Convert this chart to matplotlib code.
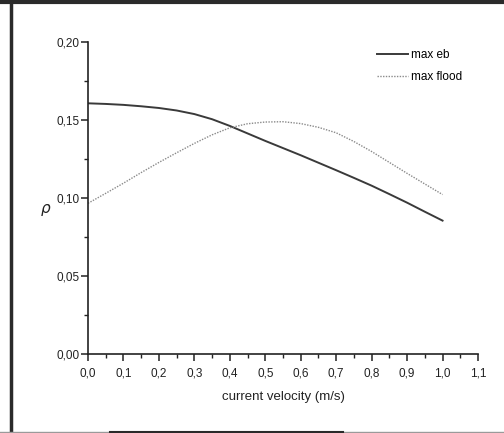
import matplotlib
matplotlib.use("Agg")
import matplotlib.pyplot as plt
from matplotlib.lines import Line2D
from matplotlib.ticker import MultipleLocator, FuncFormatter

plt.rcParams['font.family'] = ['Liberation Sans', 'DejaVu Sans']

# velocidade da corrente (m/s) e valores de rho
velocidade = [0.00, 0.05, 0.10, 0.15, 0.20, 0.25, 0.30, 0.35, 0.40, 0.45, 0.50,
              0.55, 0.60, 0.65, 0.70, 0.75, 0.80, 0.85, 0.90, 0.95, 1.00]
max_eb = [0.1607, 0.1603, 0.1597, 0.1588, 0.1577, 0.1561, 0.1538, 0.1505, 0.1462,
          0.1414, 0.1366, 0.1320, 0.1274, 0.1226, 0.1178, 0.1129, 0.1079, 0.1025,
          0.0970, 0.0912, 0.0855]
max_flood = [0.0966, 0.1030, 0.1095, 0.1163, 0.1228, 0.1290, 0.1350, 0.1405, 0.1450,
             0.1476, 0.1487, 0.1489, 0.1477, 0.1453, 0.1418, 0.1362, 0.1298, 0.1228,
             0.1158, 0.1090, 0.1022]

fig = plt.figure(figsize=(5.04, 4.33), dpi=100)
ax = fig.add_axes([88 / 504, 79 / 433, 390 / 504, 312 / 433])

ax.plot(velocidade, max_eb, color='#3a3a3a', lw=1.4, label='max eb')
ax.plot(velocidade, max_flood, color='#8a8a8a', lw=1.0, linestyle=(0, (1, 1)),
        label='max flood')

ax.set_xlim(0, 1.1)
ax.set_ylim(0, 0.20)
ax.spines['top'].set_visible(False)
ax.spines['right'].set_visible(False)
for s in ('left', 'bottom'):
    ax.spines[s].set_linewidth(1.2)
    ax.spines[s].set_color('#222222')

ax.xaxis.set_major_locator(MultipleLocator(0.1))
ax.xaxis.set_minor_locator(MultipleLocator(0.05))
ax.yaxis.set_major_locator(MultipleLocator(0.05))
ax.yaxis.set_minor_locator(MultipleLocator(0.025))
ax.xaxis.set_major_formatter(FuncFormatter(lambda v, p: f"{v:.1f}".replace('.', ',')))
ax.yaxis.set_major_formatter(FuncFormatter(lambda v, p: f"{v:.2f}".replace('.', ',')))
ax.tick_params(which='major', direction='out', length=5, width=1.1, labelsize=8.5,
               colors='#222222', pad=3)
ax.tick_params(which='minor', direction='out', length=3, width=1.0, colors='#222222')
ax.tick_params(axis='x', which='major', pad=5)
ax.tick_params(axis='y', which='major', pad=1)

ax.set_xlabel('current velocity (m/s)', fontsize=9.5, labelpad=8, color='#222222')
ax.set_ylabel('ρ', fontsize=11, rotation=0, style='italic', color='#222222',
              ha='center', va='center', family=['DejaVu Sans'])
ax.yaxis.set_label_coords(-0.11, 0.465)

ax.legend(frameon=False, loc='upper left', bbox_to_anchor=(0.73, 0.992),
          fontsize=8.5, handlelength=2.6, handletextpad=0.25, labelspacing=0.85,
          borderaxespad=0)

# moldura escura em volta da figura
fig.add_artist(Line2D([0, 1], [0.996, 0.996], transform=fig.transFigure,
                      color='#2a2a2a', lw=3))
fig.add_artist(Line2D([11 / 504, 11 / 504], [0, 1], transform=fig.transFigure,
                      color='#2a2a2a', lw=2.5))
fig.add_artist(Line2D([0, 1], [0.002, 0.002], transform=fig.transFigure,
                      color='#9a9a9a', lw=1))
fig.add_artist(Line2D([110 / 504, 343 / 504], [0.002, 0.002], transform=fig.transFigure,
                      color='#2a2a2a', lw=1.5))

fig.savefig('out.png', dpi=100)
